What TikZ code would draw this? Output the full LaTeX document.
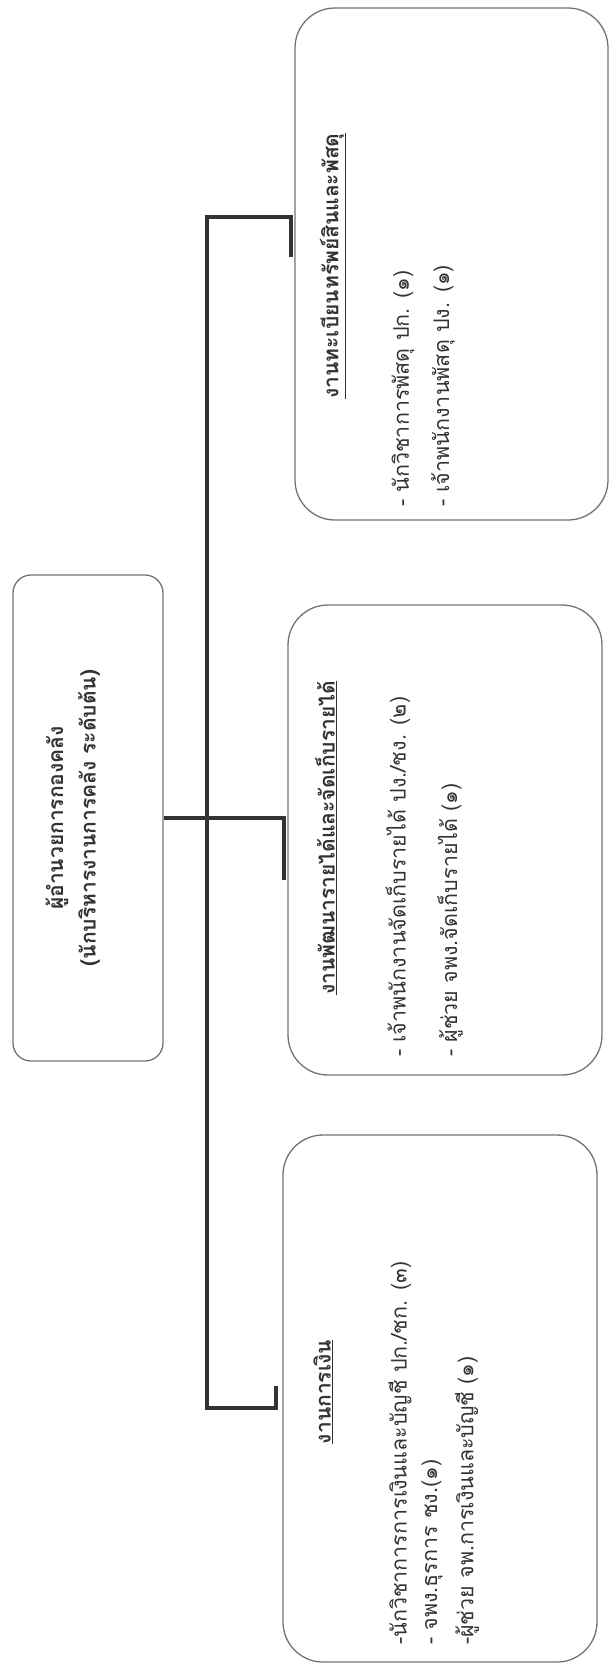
\documentclass[tikz,border=0pt]{standalone}
\usepackage{fontspec}
\newfontfamily\thaifont[Script=Thai]{Loma}
\usetikzlibrary{calc}

\tikzset{
	unitbox/.style={draw=black!55, line width=1.3pt, rounded corners=40pt, rotate=90, inner sep=0pt},
	headbox/.style={unitbox, rounded corners=18pt},
	link/.style={draw=black!80, line width=4pt, line join=miter},
	itemtext/.style={rotate=90, inner sep=0pt, text=black!80, font=\thaifont\fontsize{21.5pt}{25pt}\selectfont},
	headtext/.style={itemtext, font=\thaifont\bfseries\fontsize{21pt}{25pt}\selectfont}
}

\begin{document}
\begin{tikzpicture}[x=1pt, y=-1pt]
	\useasboundingbox (0,0) rectangle (615,1673);

	% Head of the division
	\node[headbox, minimum width=486pt, minimum height=150pt] (dir) at (88,818) {};
	\node[headtext] (dirname) at (57,818) {ผู้อำนวยการกองคลัง};
	\node[headtext] (dirrank) at (89,818) {(นักบริหารงานการคลัง ระดับต้น)};

	% The three units
	\node[unitbox, minimum width=512pt, minimum height=313pt] (tabien) at (451.5,264) {};
	\node[unitbox, minimum width=470pt, minimum height=314pt] (rayai) at (445,840) {};
	\node[unitbox, minimum width=527pt, minimum height=314pt] (ngoen) at (440,1398.5) {};

	% Unit titles
	\node[headtext] (tabientitle) at (333,266) {\underline{งานทะเบียนทรัพย์สินและพัสดุ}};
	\node[headtext] (rayaititle) at (326,838) {\underline{งานพัฒนารายได้และจัดเก็บรายได้}};
	\node[headtext] (ngoentitle) at (323,1392) {\underline{งานการเงิน}};

	% Staff of each unit
	\node[itemtext, anchor=west] (tabienA) at (403,507) {- นักวิชาการพัสดุ ปก. (๑)};
	\node[itemtext, anchor=west] (tabienB) at (443,507) {- เจ้าพนักงานพัสดุ ปง. (๑)};
	\node[itemtext, anchor=west] (rayaiA) at (398,1057) {- เจ้าพนักงานจัดเก็บรายได้ ปง./ชง. (๒)};
	\node[itemtext, anchor=west] (rayaiB) at (450,1057) {- ผู้ช่วย จพง.จัดเก็บรายได้ (๑)};
	\node[itemtext, anchor=west] (ngoenA) at (400,1645) {-นักวิชาการการเงินและบัญชี ปก./ชก. (๓)};
	\node[itemtext, anchor=west] (ngoenB) at (432,1645) {- จพง.ธุรการ ชง.(๑)};
	\node[itemtext, anchor=west] (ngoenC) at (467,1645) {-ผู้ช่วย จพ.การเงินและบัญชี (๑)};

	% Connectors
	\coordinate (trunktop) at (207,217);
	\coordinate (trunkbot) at (207,1408);
	\coordinate (tabienend) at ($(trunktop -| tabien.north)+(-3,0)$);
	\coordinate (ngoenend) at ($(trunkbot -| ngoen.north)+(-6,0)$);
	\coordinate (rayaiend) at ($(dir.south -| rayai.north)+(-3,0)$);
	\draw[link] ($(ngoenend)+(0,-22)$) -- (ngoenend) -- (trunkbot)
		-- (trunktop) -- (tabienend) -- ++(0,40);
	\draw[link] (dir.south) -- (rayaiend) -- ++(0,62);
\end{tikzpicture}
\end{document}
